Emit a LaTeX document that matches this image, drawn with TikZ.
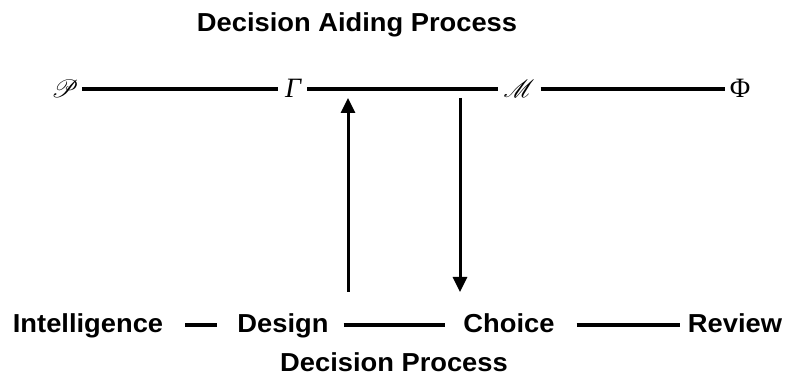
\documentclass[tikz,border=0pt]{standalone}
\usepackage{fontspec}
\usepackage{mathrsfs}
\setmainfont{Liberation Sans}[FakeStretch=1.05]
\newfontfamily\symserif{Liberation Serif}
\usetikzlibrary{arrows.meta}
\begin{document}
\begin{tikzpicture}[x=1pt,y=1pt,
  lab/.style={font=\fontsize{26}{30}\selectfont\bfseries, inner sep=0pt, anchor=base},
  sym/.style={font=\fontsize{31}{34}\selectfont, inner sep=0pt, anchor=base},
  gsym/.style={font=\symserif\fontsize{28}{32}\selectfont, inner sep=0pt, anchor=base},
  link/.style={line width=4pt},
  arr/.style={line width=3pt, -{Triangle[length=15pt,width=14pt]}}]
\useasboundingbox (0,0) rectangle (787,375);
% titles
\node[lab] (title) at (357,343) {Decision Aiding Process};
\node[lab] (dp) at (394,4) {Decision Process};
% top row
\node[sym] (P) at (65,277) {$\mathscr{P}$};
\node[gsym] (G) at (293,277) {\itshape Γ};
\node[sym] (M) at (519,277) {$\mathscr{M}$};
\node[gsym] (F) at (740,277) {Φ};
\coordinate (ytop) at (0,286);
\draw[link] ([xshift=3pt]P.east |- ytop) -- ([xshift=-7pt]G.west |- ytop);
\draw[link] ([xshift=6pt]G.east |- ytop) -- ([xshift=-5pt]M.west |- ytop);
\draw[link] ([xshift=6pt]M.east |- ytop) -- ([xshift=-5pt]F.west |- ytop);
% bottom row
\node[lab] (I) at (88,42) {Intelligence};
\node[lab] (D) at (283,42) {Design};
\node[lab] (C) at (509,42) {Choice};
\node[lab] (R) at (735,42) {Review};
\coordinate (ybot) at (0,50);
\draw[link] ([xshift=22pt]I.east |- ybot) -- ([xshift=-20pt]D.west |- ybot);
\draw[link] ([xshift=15pt]D.east |- ybot) -- ([xshift=-18pt]C.west |- ybot);
\draw[link] ([xshift=22pt]C.east |- ybot) -- ([xshift=-8pt]R.west |- ybot);
% arrows
\coordinate (uptail) at (348,83);
\coordinate (uptip) at (348,277);
\coordinate (dntail) at (460,277);
\coordinate (dntip) at (460,83);
\draw[arr] (uptail) -- (uptip);
\draw[arr] (dntail) -- (dntip);
\end{tikzpicture}
\end{document}
